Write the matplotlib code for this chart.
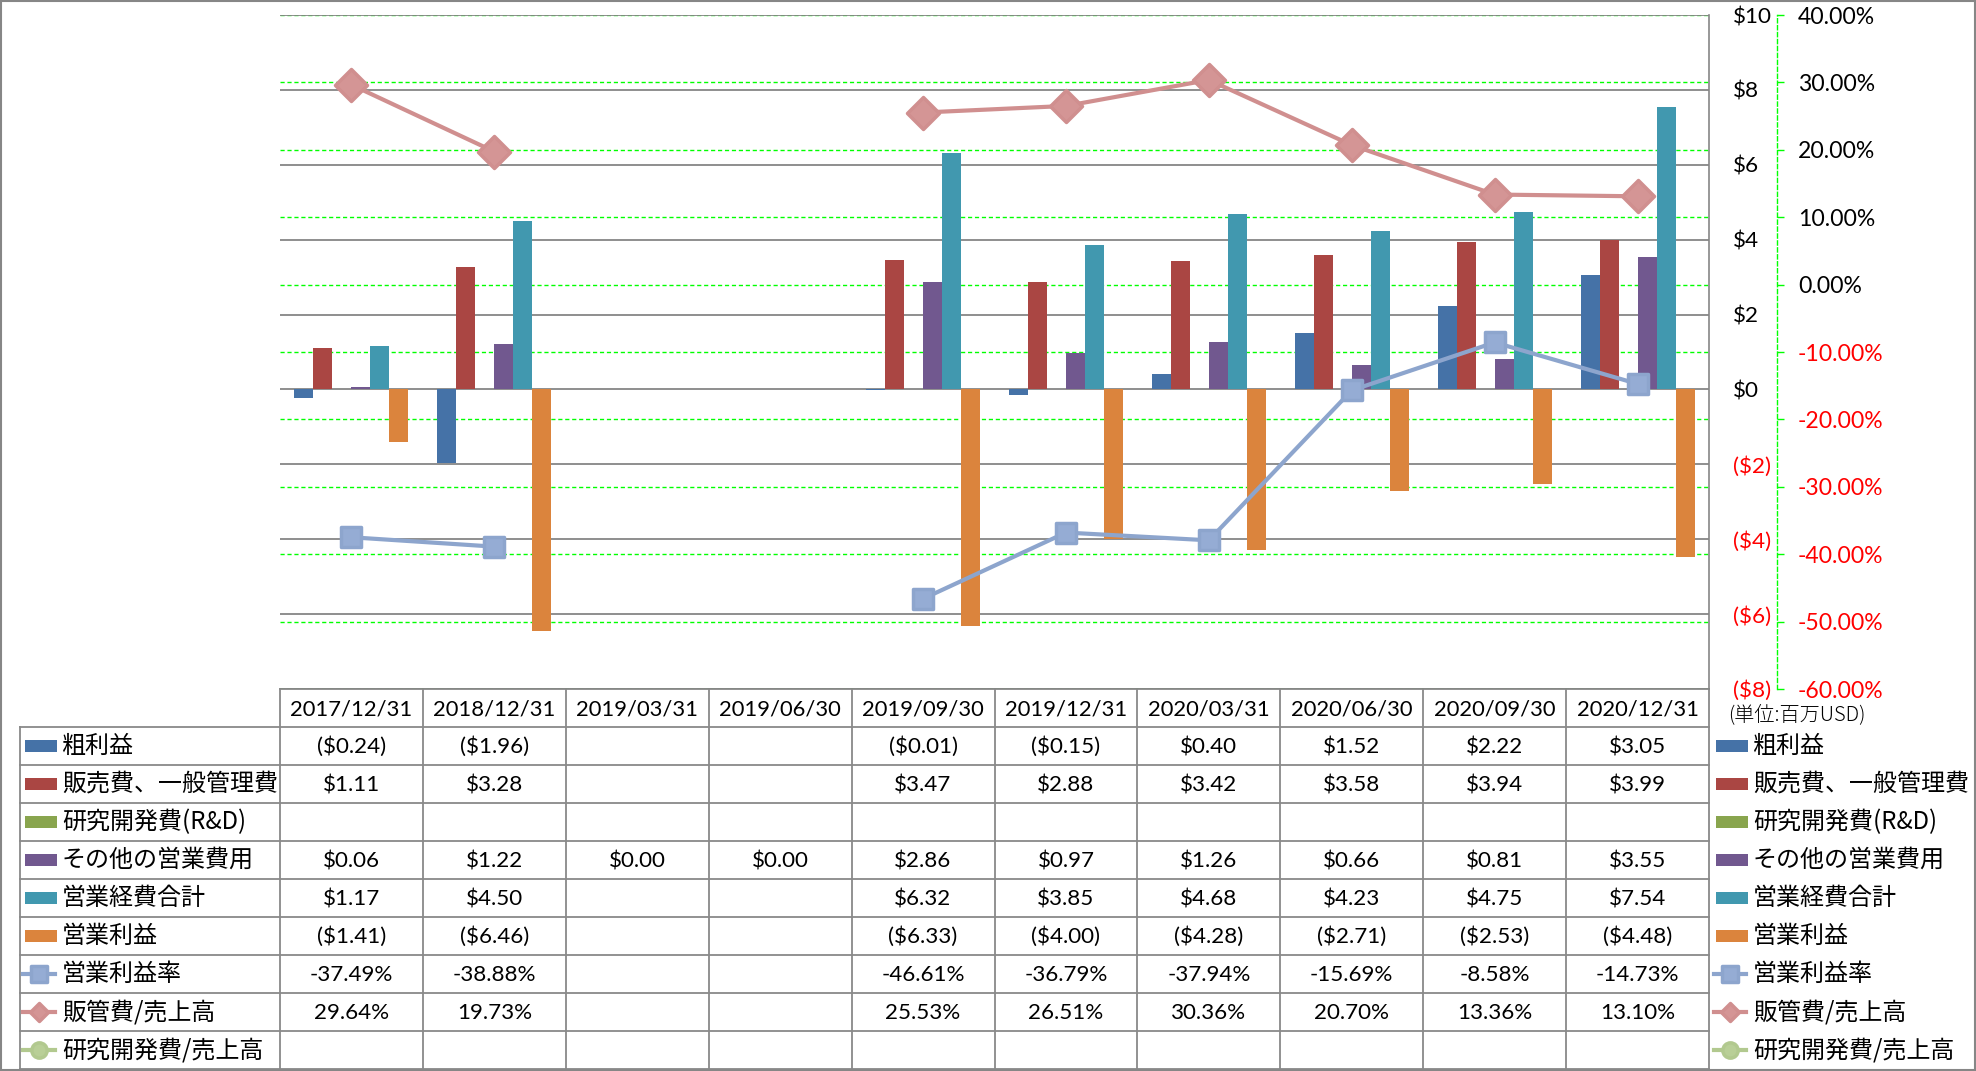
import numpy as np
import matplotlib.pyplot as plt
from matplotlib.lines import Line2D
from matplotlib.patches import Rectangle
from matplotlib.markers import MarkerStyle

nan = np.nan

# data
periods = ['2017/12/31', '2018/12/31', '2019/03/31', '2019/06/30', '2019/09/30',
           '2019/12/31', '2020/03/31', '2020/06/30', '2020/09/30', '2020/12/31']
gross_profit = [-0.24, -1.96, nan, nan, -0.01, -0.15, 0.40, 1.52, 2.22, 3.05]
sga = [1.11, 3.28, nan, nan, 3.47, 2.88, 3.42, 3.58, 3.94, 3.99]
rnd = [nan] * 10
other_opex = [0.06, 1.22, 0.00, 0.00, 2.86, 0.97, 1.26, 0.66, 0.81, 3.55]
total_opex = [1.17, 4.50, nan, nan, 6.32, 3.85, 4.68, 4.23, 4.75, 7.54]
op_income = [-1.41, -6.46, nan, nan, -6.33, -4.00, -4.28, -2.71, -2.53, -4.48]
op_margin = [-37.49, -38.88, nan, nan, -46.61, -36.79, -37.94, -15.69, -8.58, -14.73]
sga_ratio = [29.64, 19.73, nan, nan, 25.53, 26.51, 30.36, 20.70, 13.36, 13.10]
rnd_ratio = [nan] * 10

bar_names = ['粗利益', '販売費、一般管理費', '研究開発費(R&D)', 'その他の営業費用', '営業経費合計', '営業利益']
bar_data = [gross_profit, sga, rnd, other_opex, total_opex, op_income]
bar_colors = ['#4572A7', '#AA4643', '#89A54E', '#71588F', '#4198AF', '#DB843D']

line_names = ['営業利益率', '販管費/売上高', '研究開発費/売上高']
line_data = [op_margin, sga_ratio, rnd_ratio]
line_colors = ['#8DA5CD', '#D08F8F', '#B2C98F']
marker_fill = ['#95ACD4', '#D49595', '#B9CF97']
line_markers = ['s', 'D', 'o']
line_ms = [15, 16, 15]
legend_ms = [11, 9.5, 11]

money_ticks = np.arange(-8, 11, 2)
pct_ticks = np.arange(-60, 41, 10)

W, H = 1976, 1071
fig = plt.figure(figsize=(W / 100, H / 100), dpi=100)

num_font = ['Lato', 'DejaVu Sans']
jp_font = ['Noto Sans CJK JP', 'DejaVu Sans']

def money(v):
    if np.isnan(v):
        return ''
    if v < 0:
        return '(${:.2f})'.format(-v)
    return '${:.2f}'.format(v)

def pct(v):
    if np.isnan(v):
        return ''
    return '{:.2f}%'.format(v)

# plot area
left, right, top, bottom = 280, 1709, 15, 689
ax = fig.add_axes([left / W, 1 - bottom / H, (right - left) / W, (bottom - top) / H])
ax2 = ax.twinx()
ax3 = ax.twinx()
ax2.set_zorder(1)
ax.set_zorder(2)
ax3.set_zorder(3)
ax.patch.set_visible(False)
ax3.patch.set_visible(False)

x = np.arange(len(periods))
bw = 0.133
for i, (vals, c) in enumerate(zip(bar_data, bar_colors)):
    ax.bar(x + (i - 2.5) * bw, vals, width=bw, color=c, linewidth=0)

ax.set_xlim(-0.5, len(periods) - 0.5)
ax.set_ylim(-8, 10)
ax.set_xticks([])
for s in ['top', 'left', 'bottom']:
    ax.spines[s].set_visible(False)
ax.spines['right'].set_color('#868686')
ax.spines['right'].set_linewidth(1.2)
ax.yaxis.tick_right()
ax.set_yticks(money_ticks, [('(${:.0f})'.format(-t) if t < 0 else '${:.0f}'.format(t)) for t in money_ticks])
ax.tick_params(axis='y', length=0, pad=17, labelsize=16.2)
for t, lab in zip(money_ticks, ax.get_yticklabels()):
    lab.set_fontfamily(num_font)
    lab.set_color('#FF0000' if t < 0 else 'black')
ax.grid(axis='y', color='#868686', lw=1.3)
ax.set_axisbelow(True)

# secondary axis (percent)
ax2.set_ylim(-60, 40)
for s in ['top', 'left', 'bottom']:
    ax2.spines[s].set_visible(False)
ax2.spines['right'].set_position(('outward', 49))
ax2.spines['right'].set_color('#00FF00')
ax2.spines['right'].set_linestyle((0, (3, 2)))
ax2.spines['right'].set_linewidth(1.0)
ax2.set_yticks(pct_ticks, ['{:.2f}%'.format(t) for t in pct_ticks])
ax2.tick_params(axis='y', length=5, color='#00FF00', width=1, pad=10, labelsize=16.6)
for t, lab in zip(pct_ticks, ax2.get_yticklabels()):
    lab.set_fontfamily(num_font)
    lab.set_color('#FF0000' if t < 0 else 'black')
ax2.grid(axis='y', color='#00FF00', ls=(0, (3, 2)), lw=1.0)

# ratio lines on top of bars
ax3.set_ylim(-60, 40)
ax3.set_axis_off()
for vals, c, mf, m, ms in zip(line_data, line_colors, marker_fill, line_markers, line_ms):
    ax3.plot(x, vals, color=c, lw=3, marker=MarkerStyle(m, joinstyle='round'), ms=ms,
             mfc=mf, mec=c, mew=2.5)

# data table + legends (pixel coords overlay)
tb = fig.add_axes([0, 0, 1, 1])
tb.set_xlim(0, W)
tb.set_ylim(H, 0)
tb.set_axis_off()
tb.patch.set_visible(False)

gray = '#898989'
col_w = (right - left) / len(periods)
row_h = 38
head_top = bottom
rows_top = 727
n_rows = len(bar_names) + len(line_names)
tbl_left = 20
tbl_bottom = rows_top + n_rows * row_h

# header row
tb.plot([left, right], [head_top, head_top], color=gray, lw=1.3)
for j in range(len(periods) + 1):
    xx = left + j * col_w
    tb.plot([xx, xx], [head_top, tbl_bottom], color=gray, lw=1.3)
for j, p in enumerate(periods):
    tb.text(left + (j + 0.5) * col_w, (head_top + rows_top) / 2 + 1, p, ha='center', va='center',
            fontsize=15.8, family=num_font)
for r in range(n_rows + 1):
    yy = rows_top + r * row_h
    tb.plot([tbl_left, right], [yy, yy], color=gray, lw=1.3)
tb.plot([tbl_left, tbl_left], [rows_top, tbl_bottom], color=gray, lw=1.3)

all_names = bar_names + line_names
all_data = bar_data + line_data
for r, (name, vals) in enumerate(zip(all_names, all_data)):
    yc = rows_top + (r + 0.5) * row_h
    tb.text(62, yc, name, ha='left', va='center', fontsize=17.3, family=jp_font)
    tb.text(1753, yc, name, ha='left', va='center', fontsize=17.3, family=jp_font)
    fmt = money if r < len(bar_names) else pct
    for j, v in enumerate(vals):
        tb.text(left + (j + 0.5) * col_w, yc + 1, fmt(v), ha='center', va='center',
                fontsize=16.1, family=num_font)
    if r < len(bar_names):
        for kx in (25, 1716):
            tb.add_patch(Rectangle((kx, yc - 6), 32, 12, color=bar_colors[r], lw=0))
    else:
        k = r - len(bar_names)
        for kx in (23, 1714):
            tb.add_line(Line2D([kx, kx + 32], [yc, yc], color=line_colors[k], lw=3))
            tb.add_line(Line2D([kx + 16], [yc], color=line_colors[k], lw=0,
                               marker=MarkerStyle(line_markers[k], joinstyle='round'),
                               ms=legend_ms[k], mfc=marker_fill[k], mec=line_colors[k], mew=2.5))

tb.text(1728, 715, '(単位:百万USD)', ha='left', va='center', fontsize=14.5, family=jp_font,
        fontweight='light')

# chart border
tb.add_patch(Rectangle((1, 1), W - 2, H - 2, fill=False, ec='#868686', lw=1.5))

fig.savefig('out.png', dpi=100, facecolor='white')
